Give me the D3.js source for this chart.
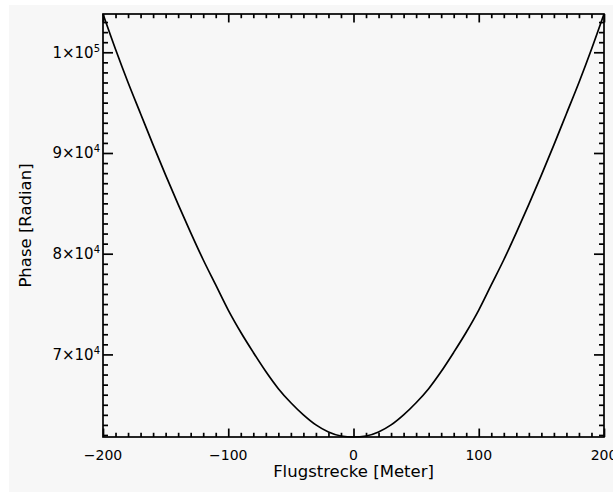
<!DOCTYPE html>
<html>
<head>
<meta charset="utf-8">
<script src="https://cdn.jsdelivr.net/npm/d3@7"></script>
<style>
  html, body { margin: 0; padding: 0; background: #ffffff; overflow: hidden; }
  text { font-family: "DejaVu Sans", sans-serif; fill: #000; }
</style>
</head>
<body>
<div id="chart"></div>
<script>
/* CONSTANTS AND GLOBALS */
const width = 613,
  height = 492,
  margin = {top: 14, bottom: 55, left: 103, right: 9};

// flight distance [m] and phase [rad]
const distance = [-200, -190, -180, -170, -160, -150, -140, -130, -120, -110, -100,
  -90, -80, -70, -60, -50, -40, -30, -20, -10, 0,
  10, 20, 30, 40, 50, 60, 70, 80, 90, 100,
  110, 120, 130, 140, 150, 160, 170, 180, 190, 200];
const phase = [103800, 100300, 97000, 93900, 90800, 87800, 84900, 82100, 79400, 76900, 74400,
  72200, 70200, 68300, 66600, 65200, 64000, 63000, 62300, 61900, 61800,
  61900, 62300, 63000, 64000, 65200, 66600, 68300, 70200, 72200, 74400,
  76900, 79400, 82100, 84900, 87800, 90800, 93900, 97000, 100300, 103800];

const xTicks = [-200, -100, 0, 100, 200];
const yTicks = [70000, 80000, 90000, 100000];
const yTickLabels = [["7", "4"], ["8", "4"], ["9", "4"], ["1", "5"]];

const data = distance.map((d, i) => ({x: d, y: phase[i]}));

const svg = d3.select("#chart")
  .append("svg")
  .attr("width", width)
  .attr("height", height);

// light grey panel, white strip on top/left
svg.append("rect")
  .attr("x", 9).attr("y", 5)
  .attr("width", width - 9).attr("height", height - 5)
  .attr("fill", "#f7f7f7");

/* SCALES */
const xScale = d3.scaleLinear()
  .domain(d3.extent(distance))
  .range([margin.left, width - margin.right]);

const yScale = d3.scaleLinear()
  .domain(d3.extent(phase))
  .range([height - margin.bottom, margin.top]);

const plotW = xScale.range()[1] - xScale.range()[0];
const plotH = yScale.range()[0] - yScale.range()[1];
const xTickLen = 0.02 * plotH, yTickLen = 0.02 * plotW;

const xMinor = d3.range(-200, 201, 10).filter(d => d % 100 !== 0);
const yMinor = d3.range(62000, 103801, 1000).filter(d => d % 10000 !== 0);

// axes: IDL style, ticks pointing inward on all four sides
const axisStyle = g => g.call(g => g.select(".domain").remove())
  .selectAll("line").attr("stroke", "#000").attr("stroke-width", 1.7);

const yBottom = height - margin.bottom, yTop = margin.top;
const xLeft = margin.left, xRight = width - margin.right;

svg.append("g").attr("transform", `translate(0,${yBottom})`)
  .call(d3.axisTop(xScale).tickValues(xTicks).tickSize(xTickLen).tickFormat(""))
  .call(axisStyle);
svg.append("g").attr("transform", `translate(0,${yBottom})`)
  .call(d3.axisTop(xScale).tickValues(xMinor).tickSize(xTickLen / 2).tickFormat(""))
  .call(axisStyle);
svg.append("g").attr("transform", `translate(0,${yTop})`)
  .call(d3.axisBottom(xScale).tickValues(xTicks).tickSize(xTickLen).tickFormat(""))
  .call(axisStyle);
svg.append("g").attr("transform", `translate(0,${yTop})`)
  .call(d3.axisBottom(xScale).tickValues(xMinor).tickSize(xTickLen / 2).tickFormat(""))
  .call(axisStyle);

svg.append("g").attr("transform", `translate(${xLeft},0)`)
  .call(d3.axisRight(yScale).tickValues(yTicks).tickSize(yTickLen).tickFormat(""))
  .call(axisStyle);
svg.append("g").attr("transform", `translate(${xLeft},0)`)
  .call(d3.axisRight(yScale).tickValues(yMinor).tickSize(yTickLen / 2).tickFormat(""))
  .call(axisStyle);
svg.append("g").attr("transform", `translate(${xRight},0)`)
  .call(d3.axisLeft(yScale).tickValues(yTicks).tickSize(yTickLen).tickFormat(""))
  .call(axisStyle);
svg.append("g").attr("transform", `translate(${xRight},0)`)
  .call(d3.axisLeft(yScale).tickValues(yMinor).tickSize(yTickLen / 2).tickFormat(""))
  .call(axisStyle);

// frame
svg.append("rect")
  .attr("x", xLeft).attr("y", yTop)
  .attr("width", plotW).attr("height", plotH)
  .attr("fill", "none")
  .attr("stroke", "#000")
  .attr("stroke-width", 1.7);

// tick labels
svg.selectAll(".xlab")
  .data(xTicks)
  .join("text")
  .attr("class", "xlab")
  .attr("x", d => xScale(d))
  .attr("y", yBottom + 23)
  .attr("text-anchor", "middle")
  .attr("font-size", 14)
  .text(d => d < 0 ? "\u2212" + Math.abs(d) : d);

const ylab = svg.selectAll(".ylab")
  .data(yTicks)
  .join("text")
  .attr("class", "ylab")
  .attr("x", xLeft - 3)
  .attr("y", d => yScale(d) + 5.5)
  .attr("text-anchor", "end")
  .attr("font-size", 15);
ylab.append("tspan").text((d, i) => yTickLabels[i][0] + "\u00d710");
ylab.append("tspan")
  .attr("font-size", 10)
  .attr("dy", -6)
  .text((d, i) => yTickLabels[i][1]);

// axis titles
svg.append("text")
  .attr("x", (xLeft + xRight) / 2)
  .attr("y", yBottom + 40)
  .attr("text-anchor", "middle")
  .attr("font-size", 16.5)
  .text("Flugstrecke [Meter]");

svg.append("text")
  .attr("transform", `translate(31,${(yTop + yBottom) / 2}) rotate(-90)`)
  .attr("text-anchor", "middle")
  .attr("font-size", 16.5)
  .text("Phase [Radian]");

// the curve
const lineGen = d3.line()
  .x(d => xScale(d.x))
  .y(d => yScale(d.y))
  .curve(d3.curveMonotoneX);

svg.append("path")
  .datum(data)
  .attr("d", lineGen)
  .attr("fill", "none")
  .attr("stroke", "#000")
  .attr("stroke-width", 1.7);
</script>
</body>
</html>
